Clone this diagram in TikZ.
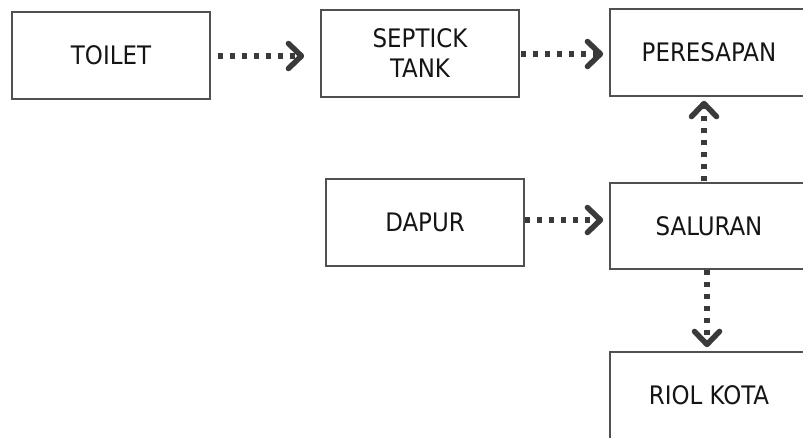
\documentclass[tikz,border=0pt]{standalone}
\usepackage{fontspec}
\setmainfont{DejaVu Sans Condensed}
\usetikzlibrary{arrows.meta}
\definecolor{boxline}{HTML}{505050}
\definecolor{arrowcol}{HTML}{3A3A3A}
\definecolor{txt}{HTML}{151515}
\begin{document}
\begin{tikzpicture}[x=1pt,y=-1pt,
  box/.style={draw=boxline,line width=1.6pt,fill=white,minimum width=198pt,minimum height=87pt,
    inner sep=0pt,align=center,text=txt,font=\fontsize{25.5}{30}\selectfont},
  flow/.style={draw=arrowcol,line width=5.5pt,dash pattern=on 5.5pt off 6.5pt,
    -{Straight Barb[length=13pt,width=25pt,line cap=round,line join=round]}}]
\useasboundingbox (0,0) rectangle (803,437);
\clip (0,0) rectangle (803,437);
\fill[white] (0,0) rectangle (803,437);
\node[box] (toilet) at (111,55.5) {TOILET};
\node[box] (septick) at (420,53.5) {SEPTICK\\TANK};
\node[box] (peresapan) at (709,52.5) {PERESAPAN};
\node[box] (dapur) at (425,222.5) {DAPUR};
\node[box,minimum height=86pt] (saluran) at (709,226) {SALURAN};
\node[box] (riol) at (709,395.5) {RIOL KOTA};
\draw[flow,shorten <=7pt,shorten >=16pt] (toilet.east |- 0,56) -- (septick.west |- 0,56);
\draw[flow,shorten <=1pt,shorten >=6pt] (septick.east |- 0,54) -- (peresapan.west |- 0,54);
\draw[flow,shorten >=6pt] (dapur.east |- 0,220) -- (saluran.west |- 0,220);
\draw[flow,shorten <=1pt,shorten >=4pt] (saluran.north -| 704,0) -- (peresapan.south -| 704,0);
\draw[flow,shorten >=4pt] (saluran.south -| 707,0) -- (riol.north -| 707,0);
\end{tikzpicture}
\end{document}
